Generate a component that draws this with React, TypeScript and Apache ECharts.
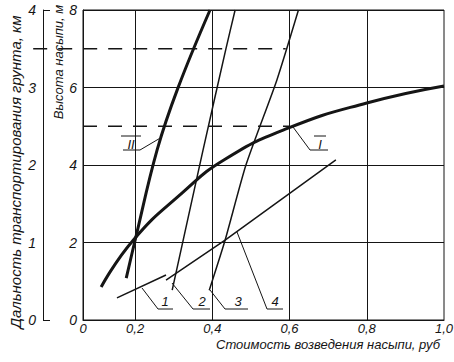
import React, { useEffect, useRef } from "react";
import * as echarts from "echarts";

// ---- data ----
const X_MIN = 0.065;
const X_MAX = 1.0;
const X_LABEL_VALUES = [0.065, 0.2, 0.4, 0.6, 0.8, 1.0];
const X_LABEL_TEXTS = ["0", "0,2", "0,4", "0,6", "0,8", "1,0"];
const X_GRID = [0.2, 0.4, 0.6, 0.8];

const HEIGHT_MIN = 0;
const HEIGHT_MAX = 8;
const HEIGHT_STEP = 2;
const DIST_MIN = 0;
const DIST_MAX = 4;
const DIST_STEP = 1;

const curveI = [
  [0.112, 0.85], [0.195, 2.06], [0.322, 3.28], [0.433, 4.15],
  [0.596, 4.95], [0.8, 5.6], [1.0, 6.04],
];
const curveII = [
  [0.177, 1.08], [0.2, 2.06], [0.257, 4.39], [0.311, 5.99], [0.394, 8.0],
];
const line1 = [[0.153, 0.57], [0.28, 1.16]];
const line2 = [[0.296, 0.77], [0.376, 4.39], [0.435, 6.99], [0.459, 8.0]];
const line3 = [[0.392, 0.77], [0.433, 2.06], [0.487, 4.0], [0.567, 6.19], [0.623, 8.0]];
const line4 = [[0.28, 1.03], [0.433, 2.06], [0.72, 4.13]];
const dash7 = [[-0.064, 7], [0.59, 7]];
const dash5 = [[0.065, 5], [0.6, 5]];

const X_TITLE = "Стоимость возведения насыпи, руб";
const Y_DIST_TITLE = "Дальность транспортирования грунта, км";
const Y_HEIGHT_TITLE = "Высота насыпи, м";

const FONT = "Liberation Sans";
const INK = "#151515";

export default function App() {
  const ref = useRef<HTMLDivElement>(null);
  useEffect(() => {
    document.body.style.margin = "0";
    const chart = echarts.init(ref.current!, null, { renderer: "svg" });

    const curve = (data: number[][], width: number, smooth = 0.3) => ({
      type: "line",
      data,
      xAxisIndex: 0,
      yAxisIndex: 0,
      showSymbol: false,
      symbol: "none",
      smooth,
      silent: true,
      lineStyle: { color: INK, width, type: "solid" },
    });

    chart.setOption({
      animation: false,
      backgroundColor: "#ffffff",
      grid: {
        left: 83,
        right: 10,
        top: 10,
        bottom: 42,
        show: true,
        borderColor: INK,
        borderWidth: 1,
        containLabel: false,
        outerBoundsMode: "none",
      },
      xAxis: {
        type: "value",
        min: X_MIN,
        max: X_MAX,
        axisLine: { show: true, lineStyle: { color: INK } },
        axisTick: { show: false },
        splitLine: { show: false },
        axisLabel: {
          customValues: X_LABEL_VALUES,
          formatter: (v: number) => {
            let best = 0;
            X_LABEL_VALUES.forEach((c, i) => {
              if (Math.abs(c - v) < Math.abs(X_LABEL_VALUES[best] - v)) best = i;
            });
            return X_LABEL_TEXTS[best];
          },
          margin: 2,
          fontFamily: FONT,
          fontStyle: "italic",
          fontSize: 13,
          lineHeight: 13,
          color: INK,
          showMinLabel: true,
          showMaxLabel: true,
        },
      },
      yAxis: [
        {
          type: "value",
          min: HEIGHT_MIN,
          max: HEIGHT_MAX,
          interval: HEIGHT_STEP,
          position: "left",
          axisLine: { show: true, lineStyle: { color: INK } },
          axisTick: { show: false },
          splitLine: { show: true, lineStyle: { color: INK, width: 1 } },
          axisLabel: {
            margin: 6,
            fontFamily: FONT,
            fontStyle: "italic",
            fontSize: 14,
            color: INK,
          },
        },
        {
          type: "value",
          min: DIST_MIN,
          max: DIST_MAX,
          interval: DIST_STEP,
          position: "left",
          offset: 40,
          axisLine: { show: true, lineStyle: { color: INK } },
          axisTick: {
            show: true,
            inside: true,
            length: 7,
            customValues: [DIST_MIN, DIST_MAX],
            lineStyle: { color: INK },
          },
          splitLine: { show: false },
          axisLabel: {
            margin: 7,
            fontFamily: FONT,
            fontStyle: "italic",
            fontSize: 14,
            color: INK,
          },
        },
      ],
      series: [
        {
          type: "line",
          data: [],
          silent: true,
          markLine: {
            silent: true,
            symbol: "none",
            label: { show: false },
            lineStyle: { color: INK, width: 1, type: "solid" },
            data: X_GRID.map((v) => ({ xAxis: v })),
          },
        },
        curve(line1, 1.5, 0),
        curve(line2, 1.5, 0.2),
        curve(line3, 1.5, 0.2),
        curve(line4, 1.5, 0),
        curve(curveI, 3, 0.5),
        curve(curveII, 3, 0.4),
      ],
    });

    // Dashed reference lines placed through the chart's own scales
    const toPx = (p: number[]) => chart.convertToPixel({ gridIndex: 0 }, p) as number[];
    const graphics: any[] = [];
    [dash7, dash5].forEach((d) => {
      const a = toPx(d[0]);
      const b = toPx(d[1]);
      graphics.push({
        type: "line",
        shape: { x1: a[0], y1: a[1], x2: b[0], y2: b[1] },
        style: { stroke: INK, lineWidth: 1.3, lineDash: [14, 11] },
        silent: true,
      });
    });

    const leaders = [
      { pts: [[142, 288], [158, 309], [173, 309]], label: "1", lx: 165, ly: 301, bar: false },
      { pts: [[172, 283], [193, 309], [210, 309]], label: "2", lx: 202, ly: 301, bar: false },
      { pts: [[210, 290], [225, 309], [248, 309]], label: "3", lx: 238, ly: 301, bar: false },
      { pts: [[237, 232], [267, 309], [283, 309]], label: "4", lx: 275, ly: 301, bar: false },
      { pts: [[293, 127], [310, 150], [328, 150]], label: "I", lx: 320, ly: 144, bar: true },
      { pts: [[162, 137], [140, 150], [123, 150]], label: "II", lx: 131, ly: 144, bar: true },
    ];
    leaders.forEach((l) => {
      graphics.push({
        type: "polyline",
        shape: { points: l.pts },
        style: { stroke: INK, lineWidth: 1, fill: null },
        silent: true,
      });
      graphics.push({
        type: "text",
        x: l.lx,
        y: l.ly,
        style: {
          text: l.label,
          font: `italic 13px "${FONT}"`,
          fill: INK,
          align: "center",
          verticalAlign: "middle",
        },
      });
      if (l.bar) {
        const w = l.label.length * 4 + 2;
        graphics.push({
          type: "line",
          shape: { x1: l.lx - w, y1: l.ly - 8, x2: l.lx + w, y2: l.ly - 8 },
          style: { stroke: INK, lineWidth: 1 },
        });
      }
    });
    graphics.push({
      type: "text",
      x: 440,
      y: 344,
      style: {
        text: X_TITLE,
        font: `italic 13px "${FONT}"`,
        lineHeight: 13,
        fill: INK,
        align: "right",
        verticalAlign: "middle",
      },
    });
    graphics.push({
      type: "text",
      x: 58,
      y: 62,
      rotation: Math.PI / 2,
      style: {
        text: Y_HEIGHT_TITLE,
        font: `italic 13px "${FONT}"`,
        fill: INK,
        align: "center",
        verticalAlign: "middle",
      },
    });
    graphics.push({
      type: "text",
      x: 15,
      y: 172,
      rotation: Math.PI / 2,
      style: {
        text: Y_DIST_TITLE,
        font: `italic 15px "${FONT}"`,
        fill: INK,
        align: "center",
        verticalAlign: "middle",
      },
    });

    chart.setOption({ graphic: graphics });
    return () => chart.dispose();
  }, []);
  return (
    <div
      ref={ref}
      style={{ position: "fixed", left: 0, top: 0, width: 454, height: 362, background: "#fff" }}
    />
  );
}
